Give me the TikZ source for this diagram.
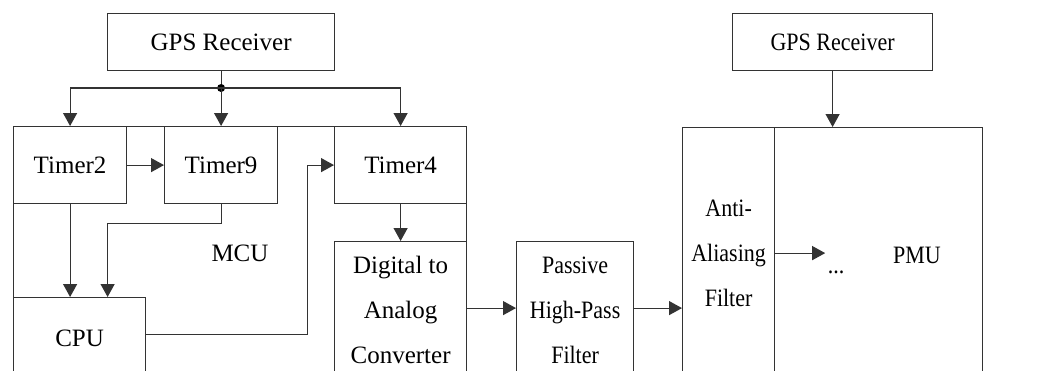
\documentclass[tikz,border=0pt]{standalone}
\usepackage{fontspec}
\setmainfont{Liberation Serif}
\newfontfamily\narrowfont{Liberation Serif}[FakeStretch=0.88]
\usepackage{tikz}
\usetikzlibrary{arrows.meta, positioning}

\begin{document}
\begin{tikzpicture}[x=1pt, y=-1pt, >={Triangle[length=13pt, width=14pt]},
  line width=1.2pt, draw=black!80,
  blk/.style={draw=black!80, rectangle, anchor=north west, inner sep=0pt,
              align=center, font=\fontsize{25}{45}\selectfont},
  blkR/.style={blk, font=\narrowfont\fontsize{25}{45}\selectfont},
  lbl/.style={font=\fontsize{25}{28}\selectfont, inner sep=0pt}
]
  \useasboundingbox (0,0) rectangle (1053,370);
  \clip (0,0) rectangle (1053,370);

  %% MCU side
  \node[blk, minimum width=453pt, minimum height=252pt] (mcu) at (13,126) {};
  \node[blk, minimum width=227pt, minimum height=57pt] (gpsA) at (107,13) {GPS Receiver};
  \node[blk, minimum width=113pt, minimum height=77pt] (tmrA) at (13,126) {Timer2};
  \node[blk, minimum width=113pt, minimum height=77pt] (tmrB) at (164,126) {Timer9};
  \node[blk, minimum width=132pt, minimum height=77pt] (tmrC) at (334,126) {Timer4};
  \node[blk, minimum width=132pt, minimum height=81pt] (cpu) at (13,297) {CPU};
  \node[blk, minimum width=132pt, minimum height=137pt] (dac) at (334,241)
    {Digital to\\Analog\\Converter};
  \node[lbl] (mcuL) at (240,253) {MCU};

  %% PMU side
  \node[blkR, minimum width=117pt, minimum height=137pt] (hpf) at (516,241)
    {Passive\\High-Pass\\Filter};
  \node[blkR, minimum width=300pt, minimum height=251pt] (pmu) at (682,127) {};
  \node[blkR, minimum width=92pt, minimum height=251pt] (aaf) at (682,127)
    {Anti-\\Aliasing\\Filter};
  \node[blkR, minimum width=200pt, minimum height=57pt] (gpsB) at (732,13) {GPS Receiver};
  \node[lbl, font=\narrowfont\fontsize{25}{28}\selectfont] (pmuL) at (917,255) {PMU};
  \node[lbl, font=\narrowfont\fontsize{25}{28}\selectfont, anchor=base] (dots) at (836,273) {...};

  %% GPS distribution
  \coordinate (jn) at (gpsA.south |- 0,88);
  \draw (gpsA.south) -- (jn);
  \fill[black] (jn) circle (4pt);
  \draw[->] (jn) -| (tmrA.north);
  \draw[->] (jn) -- (tmrB.north);
  \draw[->] (jn) -| (tmrC.north);

  %% timers and CPU
  \draw[->] (tmrA.east) -- (tmrB.west);
  \draw[->] (tmrA.south) -- (tmrA.south |- cpu.north);
  \draw[->] (tmrB.south) -- ++(0,19) -| ([xshift=28pt]cpu.north);
  \draw[->] ([yshift=4pt]cpu.east) -- ++(161,0) |- (tmrC.west);
  \draw[->] (tmrC.south) -- (dac.north);

  %% signal chain
  \draw[->] ([yshift=2pt]dac.east) -- ([yshift=2pt]dac.east -| hpf.west);
  \draw[->] ([yshift=2pt]hpf.east) -- ([yshift=2pt]hpf.east -| aaf.west);
  \draw[->] (aaf.east) -- ++(50,0);
  \draw[->] (gpsB.south) -- (gpsB.south |- pmu.north);
\end{tikzpicture}
\end{document}
